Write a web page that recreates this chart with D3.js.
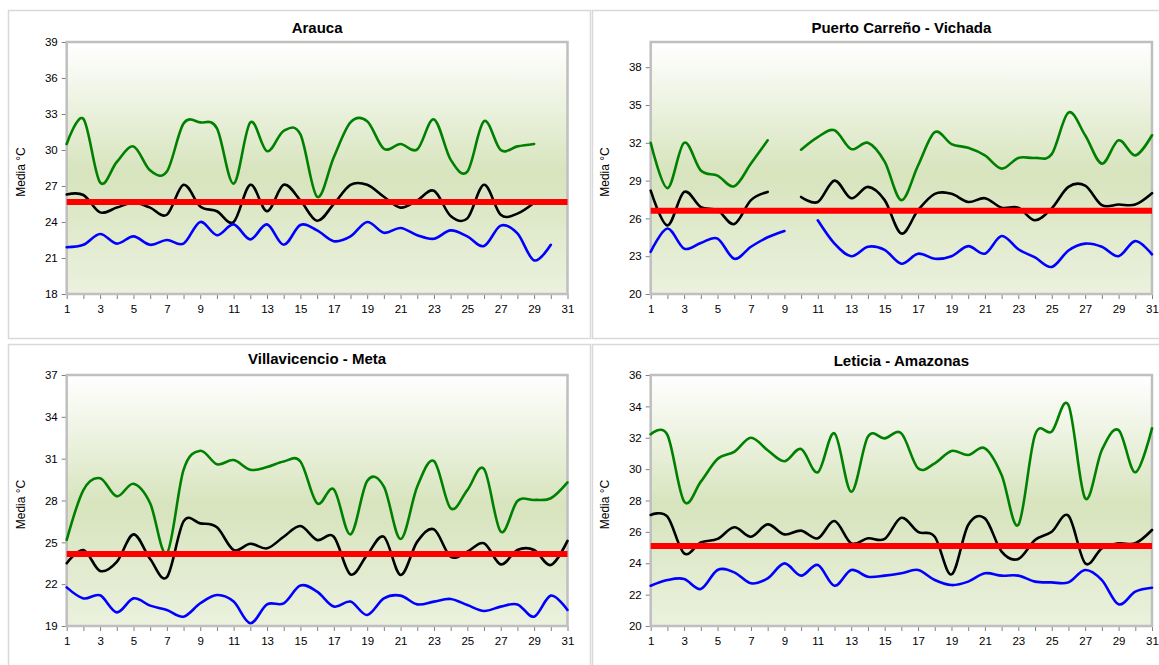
<!DOCTYPE html>
<html>
<head>
<meta charset="utf-8">
<script src="https://cdn.jsdelivr.net/npm/d3@7"></script>
<style>
  html, body { margin: 0; padding: 0; background: #ffffff; }
  svg text { font-family: "Liberation Sans", Arial, sans-serif; }
</style>
</head>
<body>
<svg id="chart" width="1159" height="665"></svg>
<script>
// ---------- DATA ----------
const days = d3.range(1, 32);
const yAxisTitle = "Media °C";

// Arauca
const araucaTitle = "Arauca";
const araucaMax  = [30.5,32.6,27.3,29.0,30.3,28.3,28.2,32.2,32.3,31.8,27.2,32.3,29.9,31.6,31.3,26.1,29.4,32.3,32.4,30.1,30.5,30.05,32.55,29.2,28.2,32.4,30.0,30.3,30.5,null,null];
const araucaMean = [26.3,26.25,24.8,25.2,25.6,25.2,24.6,27.1,25.3,24.9,24.0,27.1,24.9,27.1,25.8,24.1,25.5,27.1,27.1,26.1,25.2,25.8,26.6,24.5,24.3,27.1,24.6,24.7,25.6,null,null];
const araucaMin  = [21.9,22.1,23.0,22.2,22.8,22.1,22.5,22.2,24.0,22.9,23.8,22.55,23.8,22.1,23.75,23.3,22.4,22.8,24.0,23.1,23.5,22.9,22.6,23.3,22.8,22.0,23.7,23.05,20.8,22.1,null];
const araucaAvg  = 25.67;
const araucaTicks = [18,21,24,27,30,33,36,39];

// Puerto Carreño - Vichada
const carrenoTitle = "Puerto Carreño - Vichada";
const carrenoMax  = [32.0,28.4,32.0,29.8,29.4,28.55,30.35,32.2,null,31.45,32.45,33.0,31.5,32.0,30.5,27.45,30.2,32.85,31.9,31.6,31.0,29.95,30.8,30.8,31.1,34.4,32.6,30.35,32.2,31.0,32.6];
const carrenoMean = [28.2,25.45,28.1,26.9,26.65,25.55,27.45,28.1,null,27.7,27.3,29.0,27.6,28.5,27.45,24.8,26.65,27.95,27.95,27.3,27.6,26.85,26.85,25.85,26.8,28.5,28.6,27.05,27.1,27.1,28.0];
const carrenoMin  = [23.35,25.2,23.6,24.05,24.4,22.8,23.75,24.5,25.0,null,25.85,24.0,23.0,23.75,23.5,22.4,23.2,22.8,23.0,23.8,23.2,24.6,23.55,22.9,22.15,23.45,24.0,23.75,23.0,24.2,23.15];
const carrenoAvg  = 26.6;
const carrenoTicks = [20,23,26,29,32,35,38];

// Villavicencio - Meta
const villaTitle = "Villavicencio - Meta";
const villaMax  = [25.17,28.75,29.6,28.3,29.2,27.8,24.2,30.2,31.57,30.6,30.9,30.2,30.4,30.8,30.8,27.8,28.8,25.57,29.4,29.0,25.24,29.0,30.83,27.44,28.75,30.26,25.77,27.96,28.04,28.16,29.3];
const villaMean = [23.5,24.45,22.95,23.6,25.57,23.8,22.5,26.5,26.36,26.08,24.45,24.9,24.57,25.4,26.17,25.17,25.4,22.7,24.1,25.4,22.66,25.05,25.93,23.97,24.33,24.93,23.42,24.45,24.45,23.37,25.1];
const villaMin  = [21.77,20.98,21.2,19.98,20.98,20.46,20.15,19.67,20.63,21.22,20.75,19.2,20.55,20.63,21.9,21.46,20.39,20.75,19.79,20.98,21.18,20.55,20.75,20.94,20.5,20.08,20.39,20.55,19.67,21.18,20.15];
const villaAvg  = 24.16;
const villaTicks = [19,22,25,28,31,34,37];

// Leticia - Amazonas
const leticiaTitle = "Leticia - Amazonas";
const leticiaMax  = [32.22,32.18,27.93,29.2,30.65,31.1,32.0,31.2,30.5,31.28,29.8,32.28,28.56,32.07,31.96,32.28,30.05,30.37,31.16,30.9,31.33,29.63,26.44,32.18,32.39,34.09,28.14,31.22,32.49,29.8,32.6];
const leticiaMean = [27.08,26.97,24.63,25.33,25.55,26.29,25.69,26.48,25.84,26.08,25.59,26.69,25.27,25.59,25.55,26.9,26.0,25.69,23.29,26.44,26.86,24.74,24.27,25.48,26.01,27.03,24.0,24.95,25.27,25.27,26.12];
const leticiaMin  = [22.57,22.93,23.0,22.36,23.57,23.42,22.72,23.04,23.99,23.21,23.89,22.57,23.57,23.14,23.21,23.36,23.57,22.93,22.61,22.83,23.36,23.21,23.21,22.83,22.78,22.78,23.57,22.93,21.38,22.19,22.44];
const leticiaAvg  = 25.1;
const leticiaTicks = [20,22,24,26,28,30,32,34,36];

// ---------- LAYOUT ----------
const panels = [
  { title: araucaTitle,  max: araucaMax,  mean: araucaMean,  min: araucaMin,  avg: araucaAvg,  ticks: araucaTicks,  yDom: [18, 39],
    box: [8, 10, 582, 328],  plot: [66.7, 42, 567.5, 294],  titleY: 33, labelX: 25 },
  { title: carrenoTitle, max: carrenoMax, mean: carrenoMean, min: carrenoMin, avg: carrenoAvg, ticks: carrenoTicks, yDom: [20, 40],
    box: [592, 10, 575, 328], plot: [650.7, 42, 1152, 294], titleY: 33, labelX: 609 },
  { title: villaTitle,   max: villaMax,   mean: villaMean,   min: villaMin,   avg: villaAvg,   ticks: villaTicks,   yDom: [19, 37],
    box: [8, 344, 582, 330], plot: [66.7, 375, 567.5, 626], titleY: 364, labelX: 25 },
  { title: leticiaTitle, max: leticiaMax, mean: leticiaMean, min: leticiaMin, avg: leticiaAvg, ticks: leticiaTicks, yDom: [20, 36],
    box: [592, 344, 575, 330], plot: [650.7, 375, 1152, 626], titleY: 366, labelX: 609 }
];

const svg = d3.select("#chart");
const defs = svg.append("defs");
const grad = defs.append("linearGradient").attr("id", "bg").attr("x1", 0).attr("y1", 0).attr("x2", 0).attr("y2", 1);
grad.append("stop").attr("offset", "0%").attr("stop-color", "#ffffff");
grad.append("stop").attr("offset", "6%").attr("stop-color", "#fbfcf8");
grad.append("stop").attr("offset", "52%").attr("stop-color", "#d7e4bd");
grad.append("stop").attr("offset", "100%").attr("stop-color", "#ebf1de");

panels.forEach(p => {
  const g = svg.append("g");
  const [bx, by, bw, bh] = p.box;
  g.append("rect").attr("x", bx + 0.5).attr("y", by + 0.5).attr("width", bw).attr("height", bh)
    .attr("fill", "#ffffff").attr("stroke", "#d9d9d9").attr("stroke-width", 1.5);

  const [x0, y0, x1, y1] = p.plot;
  const x = d3.scaleLinear().domain([1, 31]).range([x0, x1]);
  const y = d3.scaleLinear().domain(p.yDom).range([y1, y0]);

  g.append("rect").attr("x", x0).attr("y", y0).attr("width", x1 - x0).attr("height", y1 - y0)
    .attr("fill", "url(#bg)");

  // axes
  const ay = g.append("g").attr("transform", `translate(${x0},0)`)
    .call(d3.axisLeft(y).tickValues(p.ticks).tickSize(5).tickPadding(4).tickFormat(d3.format("d")));
  const ax = g.append("g").attr("transform", `translate(0,${y1})`)
    .call(d3.axisBottom(x).tickValues(days).tickSize(5).tickPadding(6).tickFormat(d => d % 2 === 1 ? d : ""));
  [ay, ax].forEach(a => {
    a.select(".domain").remove();
    a.selectAll(".tick line").attr("stroke", "#808080").attr("stroke-width", 1);
    a.selectAll(".tick text").attr("fill", "#000").style("font-size", "11.5px");
  });

  // plot border
  g.append("rect").attr("x", x0).attr("y", y0).attr("width", x1 - x0).attr("height", y1 - y0)
    .attr("fill", "none").attr("stroke", "#bfbfbf").attr("stroke-width", 2.5);

  // title
  g.append("text").attr("x", (x0 + x1) / 2).attr("y", p.titleY).attr("text-anchor", "middle")
    .style("font-size", "15px").style("font-weight", "bold").text(p.title);

  // y label
  g.append("text").attr("transform", `translate(${p.labelX},${(y0 + y1) / 2 + 4}) rotate(-90)`)
    .attr("text-anchor", "middle").style("font-size", "12px").text(yAxisTitle);

  // series
  const line = d3.line()
    .defined(d => d[1] !== null)
    .x(d => x(d[0])).y(d => y(d[1]))
    .curve(d3.curveCardinal.tension(0));
  const series = [
    { vals: p.max, color: "#008000" },
    { vals: p.mean, color: "#000000" },
    { vals: p.min, color: "#0000ff" }
  ];
  series.forEach(s => {
    g.append("path").datum(days.map((d, i) => [d, s.vals[i]]))
      .attr("fill", "none").attr("stroke", s.color).attr("stroke-width", 2.6)
      .attr("stroke-linejoin", "round").attr("stroke-linecap", "round")
      .attr("d", line);
  });

  // average line
  g.append("path").datum([[1, p.avg], [31, p.avg]])
    .attr("fill", "none").attr("stroke", "#ff0000").attr("stroke-width", 6)
    .attr("d", d3.line().x(d => x(d[0])).y(d => y(d[1])));
});
</script>
</body>
</html>
